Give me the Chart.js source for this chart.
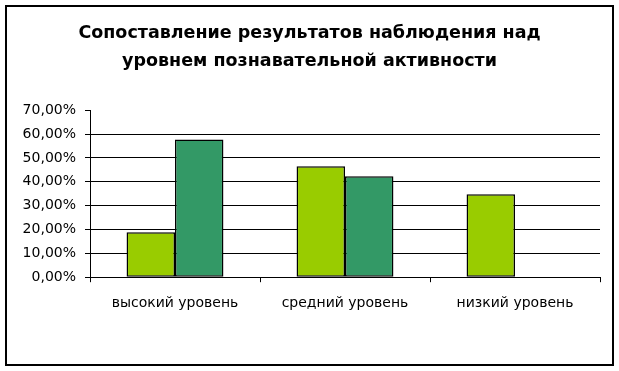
<!DOCTYPE html>
<html>
<head>
<meta charset="utf-8">
<script src="https://cdn.jsdelivr.net/npm/chart.js@4"></script>
<style>
  html, body { margin: 0; padding: 0; background: #fff; }
  #wrap { width: 619px; height: 371px; }
</style>
</head>
<body>
<div id="wrap"><canvas id="chartCanvas" width="619" height="371"></canvas></div>
<script>
// данные с картинки
var categories = ['высокий уровень', 'средний уровень', 'низкий уровень']
var series1 = [18.9, 46.5, 34.8]
var series2 = [57.8, 42.3, 0]
var yTicks = [0, 10, 20, 30, 40, 50, 60, 70]
var titleLines = ['Сопоставление результатов наблюдения над', 'уровнем познавательной активности']

// рамка вокруг всей диаграммы + отметка на 70%
var framePlugin = {
    id: 'frame',
    afterDraw: function (chart) {
        var c = chart.ctx
        c.save()
        c.strokeStyle = '#000'
        c.lineWidth = 2
        c.strokeRect(6, 6, 607, 359)
        var y = chart.scales.y
        var py = Math.round(y.getPixelForValue(70)) + 0.5
        c.lineWidth = 1
        c.beginPath()
        c.moveTo(chart.chartArea.left - 5, py)
        c.lineTo(chart.chartArea.left, py)
        c.stroke()
        c.restore()
    }
}

var ctx = document.getElementById('chartCanvas')
var myChart = new Chart(ctx, {
    type: 'bar',
    data: {
        labels: categories,
        datasets: [
            { label: 'Ряд1', data: series1, backgroundColor: '#99CC00', borderColor: '#000', borderWidth: 1.5, borderSkipped: false },
            { label: 'Ряд2', data: series2, backgroundColor: '#339966', borderColor: '#000', borderWidth: 1.5, borderSkipped: false }
        ]
    },
    options: {
        responsive: false,
        animation: false,
        layout: { padding: { left: 19, right: 19, top: 0, bottom: 46 } },
        plugins: {
            legend: { display: false },
            tooltip: { enabled: false },
            title: {
                display: true,
                text: titleLines,
                color: '#000',
                font: { family: 'DejaVu Sans', size: 17.5, weight: 'bold', lineHeight: 1.58 },
                padding: { top: 20, bottom: 35 }
            }
        },
        datasets: { bar: { barPercentage: 1, categoryPercentage: 0.57 } },
        scales: {
            x: {
                grid: { drawOnChartArea: false, drawTicks: true, tickLength: 5, color: '#000', offset: true },
                border: { color: '#000', width: 1 },
                ticks: { color: '#000', padding: 13, font: { family: 'DejaVu Sans', size: 14 }, maxRotation: 0 }
            },
            y: {
                min: 0,
                max: 70,
                afterFit: function (s) { s.width = 71 },
                afterBuildTicks: function (s) { s.ticks = yTicks.map(function (v) { return { value: v } }) },
                grid: {
                    color: function (c) { return c.tick && c.tick.value === 70 ? 'rgba(0,0,0,0)' : '#000' },
                    tickLength: 5
                },
                border: { color: '#000', width: 1 },
                ticks: {
                    color: '#000',
                    padding: 9,
                    font: { family: 'DejaVu Sans', size: 14 },
                    callback: function (v) { return v.toFixed(2).replace('.', ',') + '%' }
                }
            }
        }
    },
    plugins: [framePlugin]
})
</script>
</body>
</html>
